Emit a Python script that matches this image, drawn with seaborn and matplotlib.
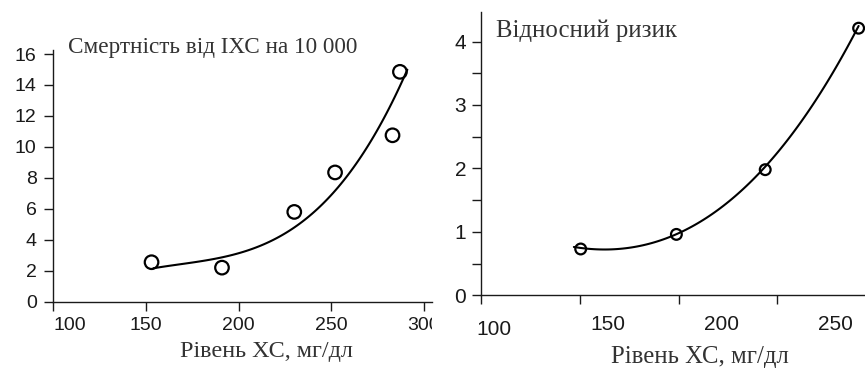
import matplotlib
matplotlib.use("Agg")
import matplotlib.pyplot as plt
import seaborn as sns
from matplotlib.transforms import Bbox, TransformedBbox, blended_transform_factory

# ---------------- data ----------------
# Left panel: CHD mortality per 10 000 vs cholesterol level
mort_chol = [153, 191, 230, 252, 283, 287]
mort_rate = [2.55, 2.2, 5.8, 8.35, 10.75, 14.85]
# points
mort_fit_chol = [154, 170, 192, 210, 220, 233, 247, 262, 273, 283, 291]
mort_fit_rate = [2.16, 2.45, 2.88, 3.55, 4.05, 5.05, 6.55, 8.7, 10.65, 12.95, 15.0]
mort_xticks = [100, 150, 200, 250, 300]
mort_xticklabels = ["100", "150", "200", "250", "300"]
mort_yticks = [0, 2, 4, 6, 8, 10, 12, 14, 16]

# Right panel: relative risk vs cholesterol level
rr_chol = [138, 180, 219, 260]
rr_value = [0.73, 0.96, 1.98, 4.21]
# points
rr_fit_chol = [135, 151, 165.5, 179.4, 194.7, 208, 219, 231.3, 246, 260]
rr_fit_value = [0.75, 0.726, 0.82, 0.962, 1.24, 1.61, 1.976, 2.61, 3.40, 4.21]
rr_xticklabels = ["100", "150", "200", "250"]
rr_yticks = [0, 1, 2, 3, 4]
rr_yticks_minor = [0.5, 1.5, 2.5, 3.5]

left_title = "Смертність від ІХС на 10 000"
right_title = "Відносний ризик"
xlabel = "Рівень ХС, мг/дл"

# ---------------- style ----------------
sns.set_theme(style="ticks")
plt.rcParams["font.family"] = ["Liberation Sans", "DejaVu Sans"]
SERIF = ["Liberation Serif", "DejaVu Serif"]
INK = "#1a1a1a"
TXT = "#333333"

W, H = 865, 368
fig = plt.figure(figsize=(W / 100, H / 100), dpi=100)

def fx(px):
    return px / W

def fy(py):
    return 1 - py / H

axL = fig.add_axes([fx(53.3), fy(301.7), fx(432 - 53.3), (301.7 - 50) / H])
axR = fig.add_axes([fx(480.7), fy(295.3), fx(865 - 480.7), (295.3 - 11.7) / H])

for ax in (axL, axR):
    ax.set_facecolor("none")
    for s in ("top", "right"):
        ax.spines[s].set_visible(False)
    for s in ("left", "bottom"):
        ax.spines[s].set_color(INK)
        ax.spines[s].set_linewidth(1.0)
    ax.tick_params(which="both", direction="out", length=6.5, width=1.0,
                   color=INK, labelcolor=INK)

# ---------------- left panel ----------------
sns.regplot(x=mort_fit_chol, y=mort_fit_rate, ax=axL, order=3, ci=None,
            scatter=False, truncate=True, line_kws=dict(color="black", lw=1.5))
sns.scatterplot(x=mort_chol, y=mort_rate, ax=axL, s=95, facecolors="none",
                edgecolor="black", linewidth=1.6, zorder=3, clip_on=False)
axL.set_xlim(100, 304.3)
axL.set_ylim(0, 16.26)
axL.set_xticks(mort_xticks)
axL.set_yticks(mort_yticks)
axL.set_xlabel("")
axL.set_ylabel("")
axL.tick_params(axis="x", labelbottom=False)
axL.tick_params(axis="y", labelsize=14, pad=5.5)

trL = blended_transform_factory(axL.transData, axL.transAxes)
clip = TransformedBbox(Bbox([[0, 0], [432 / W, 1]]), fig.transFigure)
label_pos_L = [109, 150, 200, 250, 300]
for xp, lab in zip(label_pos_L, mort_xticklabels):
    t = axL.annotate(lab, xy=(xp, 0), xycoords=trL, xytext=(0, -20.4),
                     textcoords="offset points", ha="center", va="baseline",
                     fontsize=14, color=INK, annotation_clip=False)
    t.set_clip_on(True)
    t.set_clip_box(clip)

fig.text(fx(68), fy(53), left_title, family=SERIF, fontsize=16.7, color=TXT,
         ha="left", va="baseline")
fig.text(fx(266), fy(357), xlabel, family=SERIF, fontsize=17.4, color=TXT,
         ha="center", va="baseline")

# ---------------- right panel ----------------
sns.regplot(x=rr_fit_chol, y=rr_fit_value, ax=axR, order=3, ci=None,
            scatter=False, truncate=True, line_kws=dict(color="black", lw=1.5))
sns.scatterplot(x=rr_chol, y=rr_value, ax=axR, s=60, facecolors="none",
                edgecolor="black", linewidth=1.6, zorder=3, clip_on=False)
axR.set_xlim(94.1, 262.8)
axR.set_ylim(0, 4.47)
axR.set_xticks([94.1, 137.7, 181, 224])
axR.set_yticks(rr_yticks)
axR.set_yticks(rr_yticks_minor, minor=True)
axR.set_xlabel("")
axR.set_ylabel("")
axR.tick_params(axis="x", labelbottom=False)
axR.tick_params(axis="y", labelsize=15, pad=4)

trR = blended_transform_factory(axR.transData, axR.transAxes)
label_pos_R = [100, 150, 200, 250]
label_drop_R = [28.6, 25, 25, 25]
for xp, lab, dy in zip(label_pos_R, rr_xticklabels, label_drop_R):
    axR.annotate(lab, xy=(xp, 0), xycoords=trR, xytext=(0, -dy),
                 textcoords="offset points", ha="center", va="baseline",
                 fontsize=15, color=INK, annotation_clip=False)

fig.text(fx(496), fy(37.3), right_title, family=SERIF, fontsize=17.8, color=TXT,
         ha="left", va="baseline")
fig.text(fx(700), fy(363.5), xlabel, family=SERIF, fontsize=17.8, color=TXT,
         ha="center", va="baseline")

fig.savefig("out.png", dpi=100)
